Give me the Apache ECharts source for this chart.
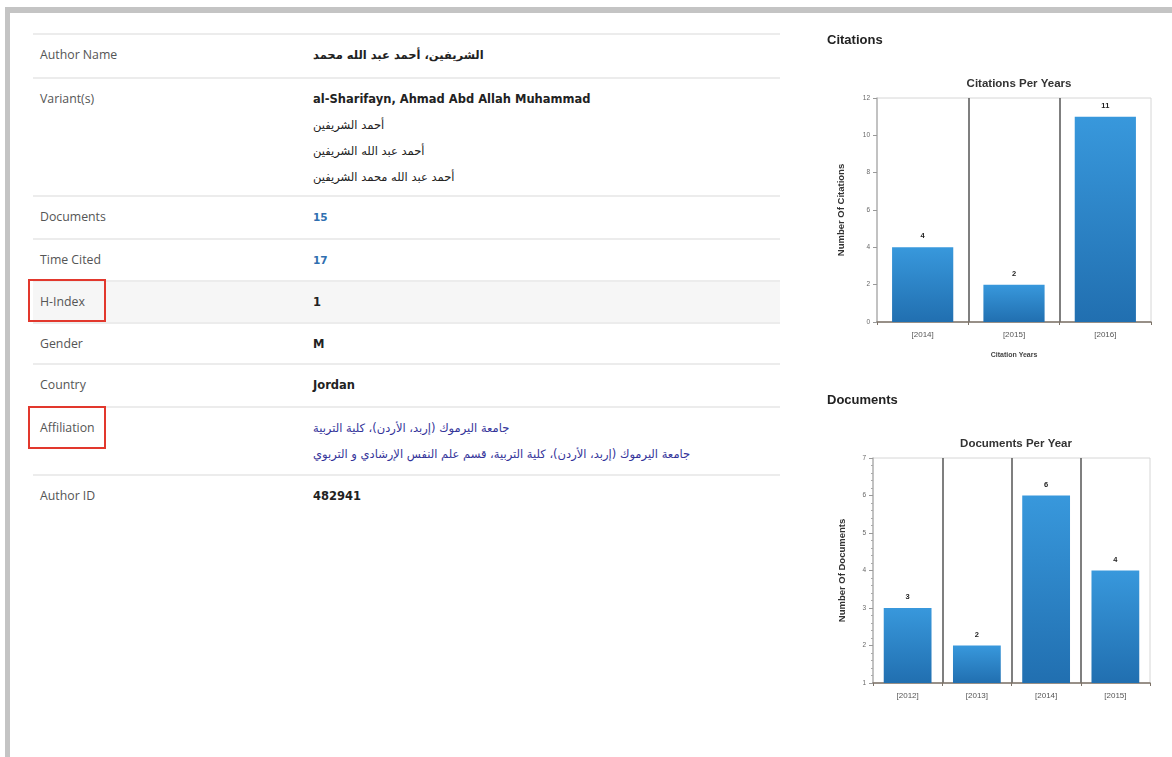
<!DOCTYPE html>
<html>
<head>
<meta charset="utf-8">
<script src="https://cdn.jsdelivr.net/npm/echarts@6/dist/echarts.min.js"></script>
<style>
  html, body { margin: 0; padding: 0; background: #fff; }
  body { width: 1172px; height: 757px; position: relative; overflow: hidden; font-family: "Open Sans", "DejaVu Sans", sans-serif; }
  .frameTop { position: absolute; left: 5px; top: 7px; width: 1167px; height: 6px; background: #c4c4c4; }
  .frameLeft { position: absolute; left: 5px; top: 7px; width: 5px; height: 750px; background: #c4c4c4; }
  .row { position: absolute; left: 33px; width: 747px; border-top: 2px solid #ececec; box-sizing: border-box; }
  .lab { position: absolute; left: 7px; top: 7px; font-size: 12.3px; line-height: 26px; color: #555; }
  .val { position: absolute; left: 280px; top: 7px; font-family: "DejaVu Sans", sans-serif; font-size: 11.5px; line-height: 26px; color: #222; }
  .b { font-weight: bold; }
  .blue { color: #2f6fb0; font-weight: bold; font-size: 10.5px; }
  .aff { color: #34349a; font-size: 11.5px; }
  .ar { direction: rtl; unicode-bidi: embed; display: inline-block; }
  .redbox { position: absolute; border: 2px solid #e2382d; box-sizing: border-box; }
  #chart { position: absolute; left: 0; top: 0; width: 1172px; height: 757px; }
</style>
</head>
<body>
<div class="frameTop"></div>
<div class="frameLeft"></div>

<div class="row" style="top:33px;height:44px;"><div class="lab">Author Name</div><div class="val b"><span class="ar">الشريفين، أحمد عبد الله محمد</span></div></div>
<div class="row" style="top:77px;height:118px;"><div class="lab">Variant(s)</div><div class="val"><span class="b">al-Sharifayn, Ahmad Abd Allah Muhammad</span><br><span class="ar">أحمد الشريفين</span><br><span class="ar">أحمد عبد الله الشريفين</span><br><span class="ar">أحمد عبد الله محمد الشريفين</span></div></div>
<div class="row" style="top:195px;height:43px;"><div class="lab">Documents</div><div class="val blue">15</div></div>
<div class="row" style="top:238px;height:42px;"><div class="lab">Time Cited</div><div class="val blue">17</div></div>
<div class="row" style="top:280px;height:42px;background:#f6f6f6;"><div class="lab">H-Index</div><div class="val b">1</div></div>
<div class="row" style="top:322px;height:41px;"><div class="lab">Gender</div><div class="val b">M</div></div>
<div class="row" style="top:363px;height:43px;"><div class="lab">Country</div><div class="val b">Jordan</div></div>
<div class="row" style="top:406px;height:68px;"><div class="lab">Affiliation</div><div class="val aff"><span class="ar">جامعة اليرموك (إربد، الأردن)، كلية التربية</span><br><span class="ar">جامعة اليرموك (إربد، الأردن)، كلية التربية، قسم علم النفس الإرشادي و التربوي</span></div></div>
<div class="row" style="top:474px;height:44px;"><div class="lab">Author ID</div><div class="val b">482941</div></div>

<div class="redbox" style="left:28px;top:279px;width:78px;height:43px;"></div>
<div class="redbox" style="left:28px;top:406px;width:78px;height:43px;"></div>

<div id="chart"></div>
<script>
const citationYears = ['[2014]', '[2015]', '[2016]'];
const citationCounts = [4, 2, 11];
const documentYears = ['[2012]', '[2013]', '[2014]', '[2015]'];
const documentCounts = [3, 2, 6, 4];

const barGradient = new echarts.graphic.LinearGradient(0, 0, 0, 1, [
  { offset: 0, color: '#3898dc' },
  { offset: 1, color: '#216fb0' }
]);

function xAxisCfg(gridIndex, data, name) {
  return {
    type: 'category', gridIndex: gridIndex, data: data,
    name: name, nameLocation: 'middle', nameGap: 30,
    nameTextStyle: { fontSize: 7, fontWeight: 'bold', color: '#444', fontFamily: 'Arial' },
    axisLine: { show: true, lineStyle: { color: '#7d7368', width: 1.5 } },
    axisTick: { show: true, length: 3, lineStyle: { color: '#7d7368' } },
    axisLabel: { fontSize: 8, color: '#555', margin: 9, fontFamily: 'Arial' },
    splitLine: { show: true, showMinLine: false, showMaxLine: false, lineStyle: { color: '#555', width: 1.5 } }
  };
}
function yAxisCfg(gridIndex, min, max, interval, name, gap, minor) {
  return {
    type: 'value', gridIndex: gridIndex, min: min, max: max, interval: interval,
    name: name, nameLocation: 'middle', nameGap: gap,
    nameTextStyle: { fontSize: 9.5, fontWeight: 'bold', color: '#333', fontFamily: 'Arial' },
    axisLine: { show: true, lineStyle: { color: '#b5b5b5', width: 1.5 } },
    axisTick: { show: true, length: 4, lineStyle: { color: '#999' } },
    minorTick: { show: minor, splitNumber: 5, length: 2, lineStyle: { color: '#aaa' } },
    axisLabel: { fontSize: 6.5, color: '#666', margin: 7, fontFamily: 'Arial' },
    splitLine: { show: false }
  };
}
function barSeries(idx, data, width) {
  return {
    type: 'bar', xAxisIndex: idx, yAxisIndex: idx, data: data,
    barWidth: width,
    itemStyle: { color: barGradient },
    label: { show: true, position: 'top', distance: 7, fontSize: 7.5, fontWeight: 'bold', color: '#222', fontFamily: 'Arial' }
  };
}

const chart = echarts.init(document.getElementById('chart'), null, { renderer: 'canvas' });
chart.setOption({
  animation: false,
  backgroundColor: 'transparent',
  title: [
    { text: 'Citations', left: 822, top: 29, textStyle: { fontSize: 13, fontWeight: 'bold', color: '#222', fontFamily: 'Arial' } },
    { text: 'Citations Per Years', left: 1014, top: 73, textAlign: 'center', textStyle: { fontSize: 11.5, fontWeight: 'bold', color: '#333', fontFamily: 'Arial' } },
    { text: 'Documents', left: 822, top: 389, textStyle: { fontSize: 13, fontWeight: 'bold', color: '#222', fontFamily: 'Arial' } },
    { text: 'Documents Per Year', left: 1011, top: 433, textAlign: 'center', textStyle: { fontSize: 11.5, fontWeight: 'bold', color: '#333', fontFamily: 'Arial' } }
  ],
  grid: [
    { left: 877, top: 98, width: 274, height: 224, show: true, borderColor: '#d6d6d6', borderWidth: 1, backgroundColor: '#fff' },
    { left: 873, top: 458, width: 277, height: 225, show: true, borderColor: '#d6d6d6', borderWidth: 1, backgroundColor: '#fff' }
  ],
  xAxis: [
    xAxisCfg(0, citationYears, 'Citation Years'),
    xAxisCfg(1, documentYears, '')
  ],
  yAxis: [
    yAxisCfg(0, 0, 12, 2, 'Number Of Citations', 31, false),
    yAxisCfg(1, 1, 7, 1, 'Number Of Documents', 26, true)
  ],
  series: [
    barSeries(0, citationCounts, '67%'),
    barSeries(1, documentCounts, '69%')
  ]
});
</script>
</body>
</html>
